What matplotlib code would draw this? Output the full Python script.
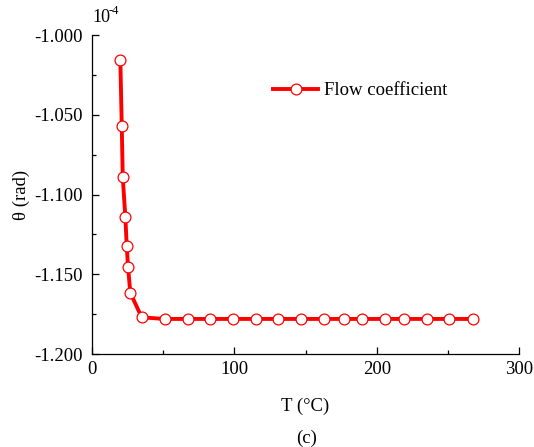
import matplotlib.pyplot as plt
from matplotlib.ticker import MultipleLocator, FormatStrFormatter

plt.rcParams['font.family'] = ['Liberation Serif', 'DejaVu Serif']

# Temperature (°C) and angle (x1e-4 rad)
temp = [19.9, 20.9, 21.6, 23.4, 24.4, 25.3, 26.9, 34.9, 51.1, 67.4, 83.1,
        98.9, 115.0, 130.5, 147.0, 163.2, 177.3, 189.5, 205.9, 219.2,
        235.6, 251.0, 267.5]
theta = [-1.0155, -1.0569, -1.0892, -1.1139, -1.1321, -1.1453, -1.1616,
         -1.1770, -1.1780, -1.1780, -1.1780, -1.1780, -1.1780, -1.1780,
         -1.1780, -1.1780, -1.1780, -1.1780, -1.1780, -1.1780, -1.1780,
         -1.1780, -1.1780]

fig = plt.figure(figsize=(5.34, 4.47), dpi=100)
ax = fig.add_axes([0.1723, 0.208, 0.7997, 0.7137])

ax.plot(temp, theta, color="red", linewidth=2.8, marker="o",
        markersize=7.8, markerfacecolor="white", markeredgecolor="red",
        markeredgewidth=0.9, label="Flow coefficient")

ax.set_xlim(0, 300)
ax.set_ylim(-1.2, -1.0)
ax.xaxis.set_major_locator(MultipleLocator(100))
ax.xaxis.set_minor_locator(MultipleLocator(50))
ax.yaxis.set_major_locator(MultipleLocator(0.05))
ax.yaxis.set_minor_locator(MultipleLocator(0.025))
ax.yaxis.set_major_formatter(FormatStrFormatter("%.3f"))
ax.tick_params(which="both", direction="in", labelsize=13.5, width=0.9)
ax.tick_params(which="major", length=5)
ax.tick_params(which="minor", length=3)
ax.tick_params(axis="y", pad=7)
ax.tick_params(axis="x", pad=5)
ax.spines["top"].set_visible(False)
ax.spines["right"].set_visible(False)
for s in ("left", "bottom"):
    ax.spines[s].set_linewidth(0.9)

ax.set_xlabel("T (°C)", fontsize=13.5, labelpad=14)
ax.set_ylabel("θ (rad)", fontsize=13.5, labelpad=3)

fig.text(92 / 534, 1 - 18 / 447, "10", fontsize=13, va="center", ha="left")
fig.text(109 / 534, 1 - 11 / 447, "-4", fontsize=9, va="center", ha="left")
fig.text(307 / 534, 1 - 438 / 447, "(c)", fontsize=13.5, ha="center", va="center")

ax.legend(loc="upper left", bbox_to_anchor=(0.385, 0.905), frameon=False,
          fontsize=13.5, handlelength=2.4, handletextpad=0.3)

fig.savefig("out.png", dpi=100)
